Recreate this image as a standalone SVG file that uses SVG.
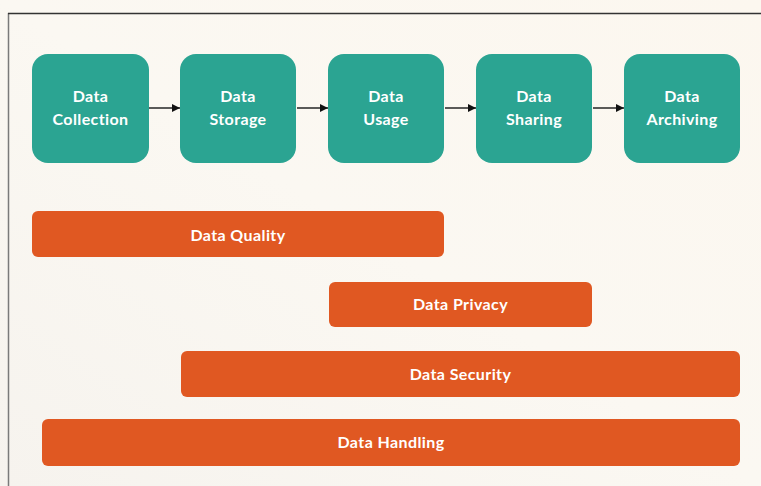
<svg xmlns="http://www.w3.org/2000/svg" width="761" height="486" viewBox="0 0 761 486">
  <defs>
    <linearGradient id="bg" x1="0" y1="1" x2="1" y2="0">
      <stop offset="0" stop-color="#F6F3EE"/>
      <stop offset="0.5" stop-color="#FBF8F2"/>
      <stop offset="1" stop-color="#FCF7EF"/>
    </linearGradient>
    <marker id="arrow" viewBox="0 0 10 10" refX="10" refY="5" markerWidth="8" markerHeight="8" markerUnits="userSpaceOnUse" orient="auto">
      <path d="M0,0 L10,5 L0,10 Z" fill="#111"/>
    </marker>
  </defs>
  <style>
    .stage { fill: #2BA492; }
    .band { fill: #E05822; }
    .label { fill: #FFFFFF; font-family: "Lato", "Liberation Sans", sans-serif; font-weight: bold; font-size: 16px; letter-spacing: 0.4px; text-anchor: middle; }
    .link { stroke: #333; stroke-width: 1.6; fill: none; marker-end: url(#arrow); }
  </style>

  <!-- backdrop and frame -->
  <rect x="0" y="0" width="761" height="486" fill="url(#bg)"/>
  <line x1="8.5" y1="13" x2="8.5" y2="486" stroke="#7A7A7A" stroke-width="1.5"/>
  <line x1="8" y1="13.5" x2="761" y2="13.5" stroke="#333" stroke-width="1.5"/>

  <!-- lifecycle stages -->
  <g id="data-collection">
    <rect class="stage" x="32" y="54" width="117" height="109" rx="16"/>
    <text class="label" x="90.5" y="102">Data</text>
    <text class="label" x="90.5" y="125">Collection</text>
  </g>
  <g id="data-storage">
    <rect class="stage" x="180" y="54" width="116" height="109" rx="16"/>
    <text class="label" x="238" y="102">Data</text>
    <text class="label" x="238" y="125">Storage</text>
  </g>
  <g id="data-usage">
    <rect class="stage" x="328" y="54" width="116" height="109" rx="16"/>
    <text class="label" x="386" y="102">Data</text>
    <text class="label" x="386" y="125">Usage</text>
  </g>
  <g id="data-sharing">
    <rect class="stage" x="476" y="54" width="116" height="109" rx="16"/>
    <text class="label" x="534" y="102">Data</text>
    <text class="label" x="534" y="125">Sharing</text>
  </g>
  <g id="data-archiving">
    <rect class="stage" x="624" y="54" width="116" height="109" rx="16"/>
    <text class="label" x="682" y="102">Data</text>
    <text class="label" x="682" y="125">Archiving</text>
  </g>

  <!-- flow between stages -->
  <g id="connectors">
    <line class="link" x1="149" y1="108" x2="180" y2="108"/>
    <line class="link" x1="297" y1="108" x2="328" y2="108"/>
    <line class="link" x1="445" y1="108" x2="476" y2="108"/>
    <line class="link" x1="593" y1="108" x2="624" y2="108"/>
  </g>

  <!-- cross-cutting concerns -->
  <g id="data-quality">
    <rect class="band" x="32" y="211" width="412" height="46" rx="6"/>
    <text class="label" x="238" y="241">Data Quality</text>
  </g>
  <g id="data-privacy">
    <rect class="band" x="329" y="282" width="263" height="45" rx="6"/>
    <text class="label" x="460.5" y="310">Data Privacy</text>
  </g>
  <g id="data-security">
    <rect class="band" x="181" y="351" width="559" height="46" rx="6"/>
    <text class="label" x="460.5" y="380">Data Security</text>
  </g>
  <g id="data-handling">
    <rect class="band" x="42" y="419" width="698" height="47" rx="6"/>
    <text class="label" x="391" y="448">Data Handling</text>
  </g>
</svg>
